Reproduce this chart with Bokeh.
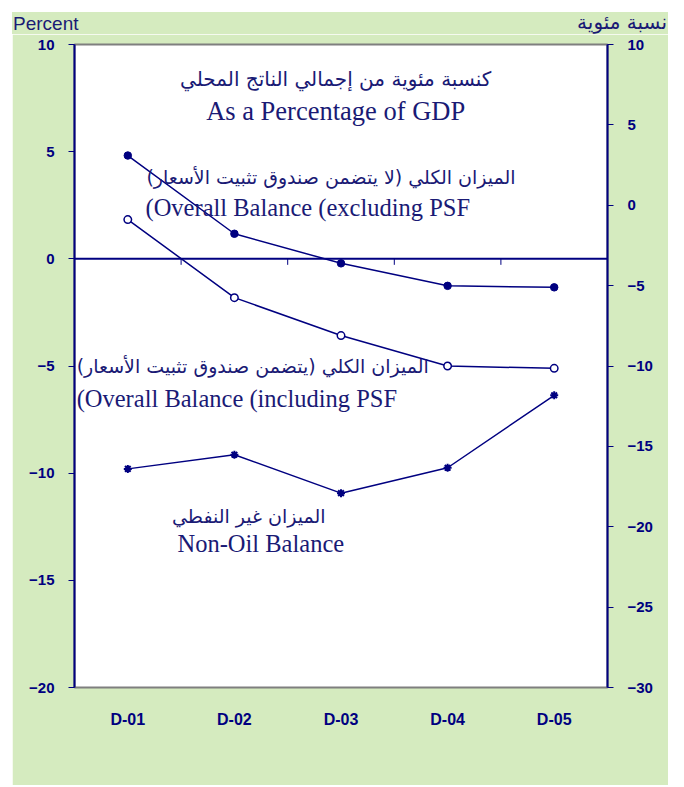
from bokeh.plotting import figure
from bokeh.layouts import column
from bokeh.models import FactorRange, Range1d, LinearAxis, FixedTicker, Span, Label, Div
from bokeh.embed import file_html
from bokeh.resources import INLINE

# ---- data ----
categories = ["D-01", "D-02", "D-03", "D-04", "D-05"]
overall_excl_psf = [4.82, 1.17, -0.21, -1.26, -1.33]      # left axis
overall_incl_psf = [1.83, -1.81, -3.58, -5.00, -5.11]     # left axis
non_oil_balance = [-16.40, -15.52, -17.91, -16.33, -11.82]  # right axis
left_ticks = [-20, -15, -10, -5, 0, 5, 10]
right_ticks = [-30, -25, -20, -15, -10, -5, 0, 5, 10]

NAVY = "#000080"
TEXT = "#1a1a75"
GREEN = "#d5ebbf"
SERIF = "Liberation Serif"
SANS = "Liberation Sans"
AR = "DejaVu Sans"

header = Div(
    text=(
        '<div style="position:relative;width:656px;height:22px;overflow:visible;">'
        f'<span style="position:absolute;left:1px;top:2px;font-family:\'{SANS}\';'
        f'font-size:19px;line-height:20px;color:{TEXT};white-space:nowrap;">Percent</span>'
        f'<span dir="rtl" style="position:absolute;right:1px;top:0px;font-family:\'{AR}\';'
        f'font-size:20px;line-height:20px;color:{TEXT};white-space:nowrap;">نسبة مئوية</span>'
        '</div>'
    ),
    width=656, height=22,
    styles={"background-color": GREEN, "margin": "0", "padding": "0"},
)

p = figure(x_range=FactorRange(factors=categories), y_range=Range1d(-20, 10),
           width=656, height=751, output_backend="svg", toolbar_location=None,
           min_border_left=62, min_border_right=61, min_border_top=10, min_border_bottom=98,
           background_fill_color="white", border_fill_color=GREEN)
p.extra_y_ranges = {"right": Range1d(-30, 10)}
p.grid.visible = False
p.outline_line_color = "#7f7f7f"
p.outline_line_width = 2


def style_y(ax):
    ax.axis_line_color = NAVY
    ax.axis_line_width = 2
    ax.major_tick_line_color = NAVY
    ax.major_tick_line_width = 1
    ax.major_tick_out = 6
    ax.major_tick_in = 0
    ax.minor_tick_line_color = None
    ax.major_label_text_font = SANS
    ax.major_label_text_font_style = "bold"
    ax.major_label_text_font_size = "15px"
    ax.major_label_text_color = NAVY
    ax.major_label_standoff = 14


yl = p.yaxis[0]
yl.ticker = FixedTicker(ticks=left_ticks)
style_y(yl)

yr = LinearAxis(y_range_name="right", ticker=FixedTicker(ticks=right_ticks))
style_y(yr)
p.add_layout(yr, "right")

xa = p.xaxis[0]
xa.axis_line_color = None
xa.major_tick_line_color = None
xa.minor_tick_line_color = None
xa.major_label_standoff = 17
xa.major_label_text_font = SANS
xa.major_label_text_font_style = "bold"
xa.major_label_text_font_size = "16px"
xa.major_label_text_color = NAVY

# zero line with category-boundary ticks
p.add_layout(Span(location=0, dimension="width", line_color=NAVY, line_width=2))
bounds = list(range(1, len(categories)))
p.segment(x0=bounds, y0=[0] * len(bounds), x1=bounds, y1=[-0.28] * len(bounds),
          line_color=NAVY, line_width=1)

# series
p.line(categories, overall_excl_psf, line_color=NAVY, line_width=1.5)
p.scatter(categories, overall_excl_psf, marker="circle", size=7.5,
          fill_color=NAVY, line_color=NAVY)

p.line(categories, overall_incl_psf, line_color=NAVY, line_width=1.5)
p.scatter(categories, overall_incl_psf, marker="circle", size=7.5,
          fill_color="white", line_color=NAVY, line_width=1.5)

p.line(categories, non_oil_balance, line_color=NAVY, line_width=1.5, y_range_name="right")
p.scatter(categories, non_oil_balance, marker="asterisk", size=8,
          line_color=NAVY, line_width=2, y_range_name="right")


def lab(x, y, text, font, size, align, color=TEXT):
    p.add_layout(Label(x=x, y=y, text=text, text_font=font, text_font_size=size,
                       text_color=color, text_align=align, text_baseline="middle"))


# chart title inside plot
lab(2.45, 8.41, "كنسبة مئوية من إجمالي الناتج المحلي", AR, "20px", "center")
lab(2.45, 6.92, "As a Percentage of GDP", SERIF, "26.5px", "center")

# series annotations
lab(4.137, 3.84, "الميزان الكلي (لا يتضمن صندوق تثبيت الأسعار)\u200f", AR, "19px", "right")
lab(0.666, 2.395, "(Overall Balance (excluding PSF", SERIF, "24.5px", "left")
lab(0.02, -5.02, "الميزان الكلي (يتضمن صندوق تثبيت الأسعار)\u200f", AR, "19px", "left")
lab(0.02, -6.52, "(Overall Balance (including PSF", SERIF, "24.5px", "left")
lab(2.355, -11.98, "الميزان غير النفطي", AR, "19px", "right")
lab(0.966, -13.28, "Non-Oil Balance", SERIF, "24.5px", "left")

layout = column(header, p, spacing=0, margin=(12, 0, 0, 12))

open("out.html", "w").write(file_html(layout, INLINE))
